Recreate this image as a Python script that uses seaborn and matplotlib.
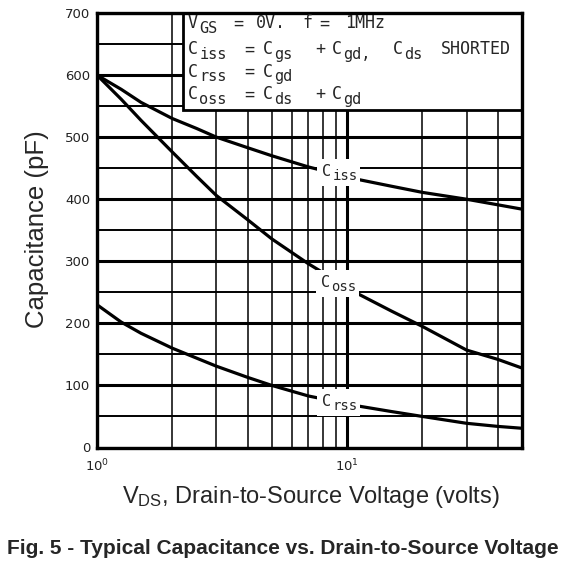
import matplotlib
matplotlib.use("Agg")
import pandas as pd
import matplotlib.pyplot as plt
import seaborn as sns
from matplotlib.patches import Rectangle
from matplotlib.ticker import FixedLocator, NullFormatter
from matplotlib.transforms import offset_copy

# values (V_DS in volts, capacitance in pF)
vds = [1, 1.25, 1.5, 2, 2.5, 3, 4, 5, 7, 11, 15, 20, 30, 40, 50]
c_iss = [600, 577, 556, 530, 514, 500, 483, 470, 452, 432, 421, 411, 400, 391, 384]
c_oss = [600, 561, 527, 476, 437, 406, 367, 336, 296, 248, 220, 195, 157, 142, 128]
c_rss = [230, 202, 184, 160, 144, 131, 113, 100, 83, 67, 58, 50, 39, 34, 31]

y_major = [0, 100, 200, 300, 400, 500, 600, 700]
y_minor = [50, 150, 250, 350, 450, 550, 650]
x_major = [1, 10]
x_minor = [2, 3, 4, 5, 6, 7, 8, 9, 20, 30, 40]
x_ticklabels = [r"$10^0$", r"$10^1$"]

df = pd.DataFrame({
    "vds": vds * 3,
    "cap": c_iss + c_oss + c_rss,
    "curve": ["iss"] * len(vds) + ["oss"] * len(vds) + ["rss"] * len(vds),
})

sns.set_theme(style="white")
plt.rcParams["font.family"] = ["DejaVu Sans"]
plt.rcParams["mathtext.fontset"] = "custom"
plt.rcParams["mathtext.rm"] = "Liberation Sans"
plt.rcParams["mathtext.it"] = "Liberation Sans"

W, H = 567, 566
MONO = "DejaVu Sans Mono"


def fx(px):
    return px / W


def fy(py):
    return (H - py) / H


fig = plt.figure(figsize=(W / 100, H / 100), dpi=100)
ax = fig.add_axes([fx(97), fy(447.5), (522 - 97) / W, (447.5 - 13) / H])

sns.lineplot(data=df, x="vds", y="cap", hue="curve",
             palette={"iss": "black", "oss": "black", "rss": "black"},
             legend=False, linewidth=2.3, ax=ax, zorder=3)

ax.set_xscale("log")
ax.set_xlim(1, 50)
ax.set_ylim(0, 700)
ax.xaxis.set_major_locator(FixedLocator(x_major))
ax.xaxis.set_minor_locator(FixedLocator(x_minor))
ax.xaxis.set_minor_formatter(NullFormatter())
ax.set_xticklabels(x_ticklabels, math_fontfamily="dejavusans")
ax.yaxis.set_major_locator(FixedLocator(y_major))
ax.yaxis.set_minor_locator(FixedLocator(y_minor))
ax.tick_params(which="both", length=0)
ax.tick_params(axis="y", pad=5, labelsize=9.5, labelcolor="#222222")
ax.tick_params(axis="x", pad=7, labelsize=9.5, labelcolor="#222222")

ax.set_axisbelow(True)
ax.grid(which="major", axis="y", color="black", linewidth=2.2)
ax.grid(which="minor", axis="y", color="black", linewidth=1.4)
ax.grid(which="major", axis="x", color="black", linewidth=2.2)
ax.grid(which="minor", axis="x", color="black", linewidth=1.1)
for s in ax.spines.values():
    s.set_color("black")
    s.set_linewidth(2.4)
ax.set_xlabel("")
ax.set_ylabel("")


def ctext(x, y, main, subs, trans, size=12, ssize=11, z=5):
    # main letter(s) in a wide typewriter face, with a big subscript behind it
    fig.text(x, y, main, transform=trans, fontsize=size, family=MONO,
             va="baseline", ha="left", zorder=z)
    if subs:
        tr = offset_copy(trans, fig=fig, x=0.602 * size * len(main) + 0.8,
                         y=-3.2, units="points")
        fig.text(x, y, subs, transform=tr, fontsize=ssize, family=MONO,
                 va="baseline", ha="left", zorder=z)


# condition box in the upper right
ax.add_patch(Rectangle((2.21, 544), 50 - 2.21, 156, facecolor="white",
                       edgecolor="black", linewidth=2.0, zorder=2))
box_lines = [
    (28.3, [(188, "V", "GS"), (233, "=", ""), (256, "0V.", ""), (302, "f", ""),
            (319, "=", ""), (345, "1MHz", "")]),
    (54.3, [(188, "C", "iss"), (244, "=", ""), (263, "C", "gs"), (315, "+", ""),
            (332, "C", "gd,"), (393, "C", "ds"), (441, "SHORTED", "")]),
    (76.7, [(188, "C", "rss"), (244, "=", ""), (263, "C", "gd")]),
    (99.3, [(188, "C", "oss"), (244, "=", ""), (263, "C", "ds"), (315, "+", ""),
            (332, "C", "gd")]),
]
for py, parts in box_lines:
    for px, m, s in parts:
        ctext(fx(px), fy(py), m, s, fig.transFigure)

# curve labels sitting on the lines; a white patch hides line and grid behind
for xv, yv, s in [(7.95, 438, "iss"), (7.85, 259, "oss"), (7.95, 67, "rss")]:
    ax.add_patch(Rectangle((xv * 0.955, yv - 17), xv * (1.42 - 0.955), 44,
                           facecolor="white", edgecolor="none", zorder=3.5))
    ctext(xv, yv, "C", s, ax.transData, size=11, ssize=10, z=4)

fig.text(fx(37.5), fy(229), "Capacitance (pF)", rotation=90, ha="center",
         va="center", fontsize=18.5, family="Liberation Sans")
fig.text(fx(311), fy(503), r"V$_{\mathrm{DS}}$, Drain-to-Source Voltage (volts)",
         ha="center", va="baseline", fontsize=17, family="Liberation Sans")
fig.text(fx(282.5), fy(554.3), "Fig. 5 - Typical Capacitance vs. Drain-to-Source Voltage",
         ha="center", va="baseline", fontsize=15, fontweight="bold",
         family="Liberation Sans")

fig.savefig("out.png", dpi=100, facecolor="white")
